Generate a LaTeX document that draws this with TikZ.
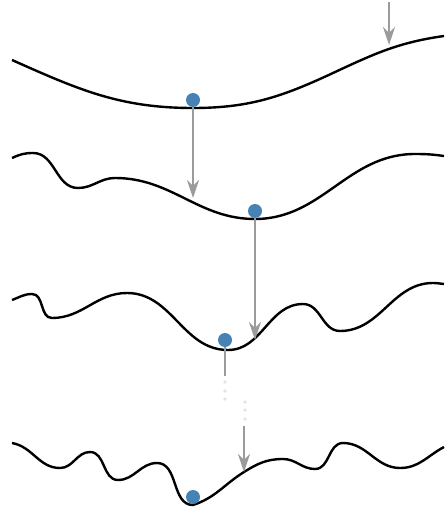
\documentclass[tikz,border=0pt]{standalone}
\usetikzlibrary{arrows.meta}
\definecolor{ballfill}{HTML}{4682B4}
\definecolor{arrline}{HTML}{9B9B9B}
\definecolor{dotline}{HTML}{C8C8C8}
\tikzset{
  landscape/.style={line width=2.4pt, black},
  ball/.style={circle, fill=ballfill, minimum size=14pt, inner sep=0pt},
  arr/.style={-{Stealth[length=18pt, width=12pt, inset=6pt]}, arrline, line width=2.2pt},
  stem/.style={arrline, line width=2.2pt},
  fade/.style={circle, draw=dotline, line width=0.4pt, minimum size=2.6pt, inner sep=0pt},
}

\begin{document}
\begin{tikzpicture}[x=1pt, y=1pt]
\useasboundingbox (0,0) rectangle (444,-510);

% Landscapes (top to bottom)
\draw[landscape] (12,-60) to[out=-24,in=180] (193,-108) to[out=0,in=205] (333,-73)
  to[out=25,in=188] (444,-36);
\draw[landscape] (12,-158) to[out=25,in=180] (33,-153) to[out=0,in=180] (78,-188)
  to[out=0,in=180] (115,-178) to[out=0,in=180] (255,-219) to[out=0,in=180] (415,-154)
  to[out=0,in=172] (444,-156);
\draw[landscape] (12,-300) to[out=20,in=180] (32,-294) to[out=0,in=180] (52,-318)
  to[out=0,in=180] (127,-293) to[out=0,in=180] (228,-350) to[out=0,in=180] (303,-304)
  to[out=0,in=180] (340,-331) to[out=0,in=180] (433,-283) to[out=0,in=175] (444,-284);
\draw[landscape] (12,-443) to[out=-10,in=180] (60,-468) to[out=0,in=180] (90,-452)
  to[out=0,in=180] (118,-480) to[out=0,in=180] (157,-463) to[out=0,in=180] (193,-505)
  to[out=18,in=212] (244,-472) to[out=32,in=180] (283,-459) to[out=0,in=180] (315,-469)
  to[out=0,in=180] (343,-443) to[out=0,in=180] (400,-468) to[out=0,in=208] (444,-447);

% Balls
\node[ball] (b1) at (193,-100) {};
\node[ball] (b2) at (255,-211) {};
\node[ball] (b3) at (225,-340) {};
\node[ball] (b4) at (193,-497) {};

% Arrow ends
\coordinate (drop0) at (389,-2);
\coordinate (hit1) at (389,-45);
\coordinate (hit2) at (193,-198);
\coordinate (hit3) at (255,-340);
\coordinate (cut3) at (225,-376);
\coordinate (rest4) at (244,-426);
\coordinate (hit4) at (244,-472);

% Fading dots
\foreach \y [count=\i] in {382,391,399}
  {\node[fade] (fa\i) at (225,-\y) {};}
\foreach \y [count=\i] in {402,410,419}
  {\node[fade] (fb\i) at (245,-\y) {};}

% --- Flow arrows -------------------------------------------------------
\draw[arr] (drop0) -- (hit1);
\draw[arr] (b1.south) -- (hit2);
\draw[arr] (b2.south) -- (hit3);
\draw[stem] (b3.south) -- (cut3);
\draw[arr] (rest4) -- (hit4);

\end{tikzpicture}
\end{document}
